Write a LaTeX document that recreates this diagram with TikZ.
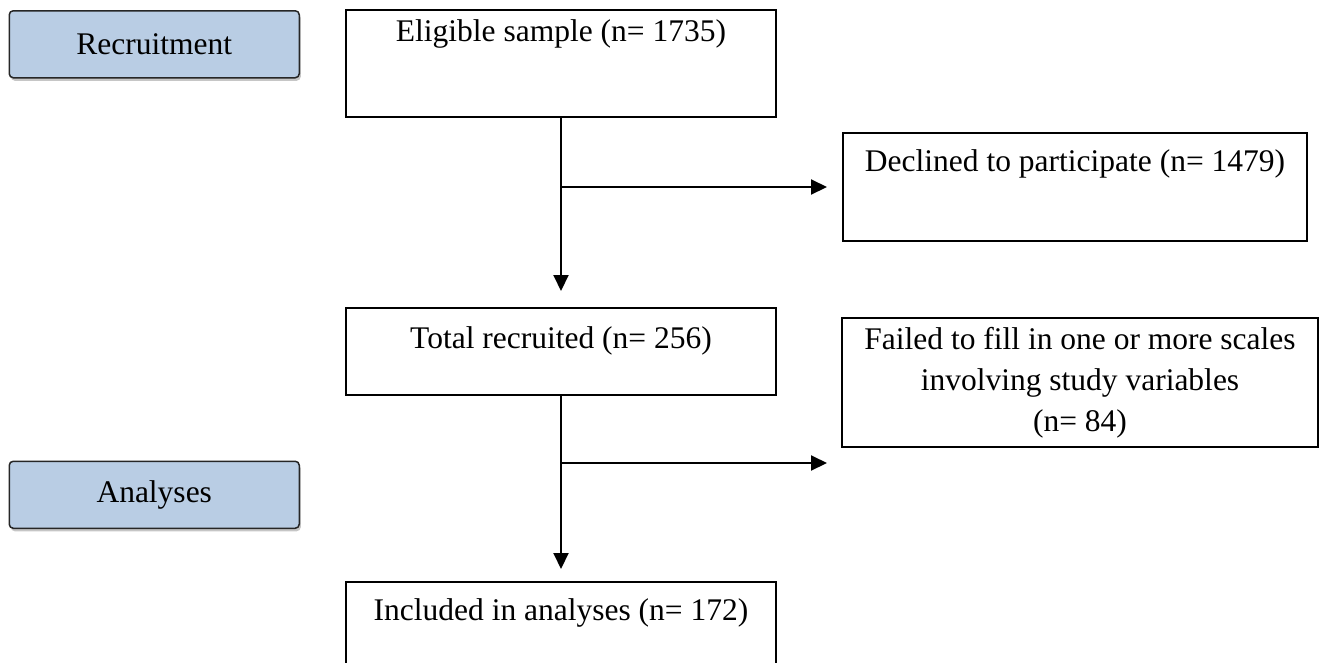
\documentclass[tikz,border=0pt]{standalone}
\usepackage{fontspec}
\setmainfont{Liberation Serif}
\usetikzlibrary{positioning}
\usetikzlibrary{shadows}
\usetikzlibrary{arrows.meta}

\begin{document}
\begin{tikzpicture}[x=1pt,y=1pt,->,>={Triangle[length=16pt,width=15pt]},line width=2pt,
	every node/.style={font=\fontsize{31.5pt}{41pt}\selectfont},
	flow box/.style={rectangle,draw,minimum width=430pt,inner ysep=0pt},
	stage box/.style={rectangle,draw=black!85,line width=1.5pt,rounded corners=4pt,
		fill=stageblue,minimum width=290pt,minimum height=67pt,
		drop shadow={shadow xshift=1.5pt,shadow yshift=-3pt,opacity=.45}}]
	
	\definecolor{stageblue}{RGB}{185,205,228}
	
	\useasboundingbox (0,0) rectangle (1325,-662);
	
	\node[flow box, text height=31pt, text depth=76pt, anchor=north west] (elig) at (345,-9) {Eligible sample (n= 1735)};
	\node[flow box, text height=40pt, text depth=47pt] (total) [below=189pt of elig] {Total recruited (n= 256)};
	\node[flow box, text height=38pt, text depth=70pt] (incl) [below=185pt of total] {Included in analyses (n= 172)};
	\node[flow box, minimum width=464pt, text height=38pt, text depth=70pt] (decl) [below right=123pt and 65pt of elig.north east] {Declined to participate (n= 1479)};
	\node[flow box, minimum width=476pt, minimum height=129pt, align=center, inner ysep=4pt] (fail) [below right=10pt and 64pt of total.north east] {Failed to fill in one or more scales\\ involving study variables\\ (n= 84)};
	
	\node[stage box] (recr) [below left=1pt and 45pt of elig.north west] {Recruitment};
	\node[stage box] (anal) [below=382pt of recr] {Analyses};
	
	\coordinate[below=69pt of elig.south] (split1);
	\coordinate[below=67pt of total.south] (split2);
	
	\path
	(elig) edge[shorten >=16pt] (total)
	(split1) edge[shorten >=15pt] (split1 -| decl.west)
	(total) edge[shorten >=12pt] (incl)
	(split2) edge[shorten >=14pt] (split2 -| fail.west);
\end{tikzpicture}
\end{document}
